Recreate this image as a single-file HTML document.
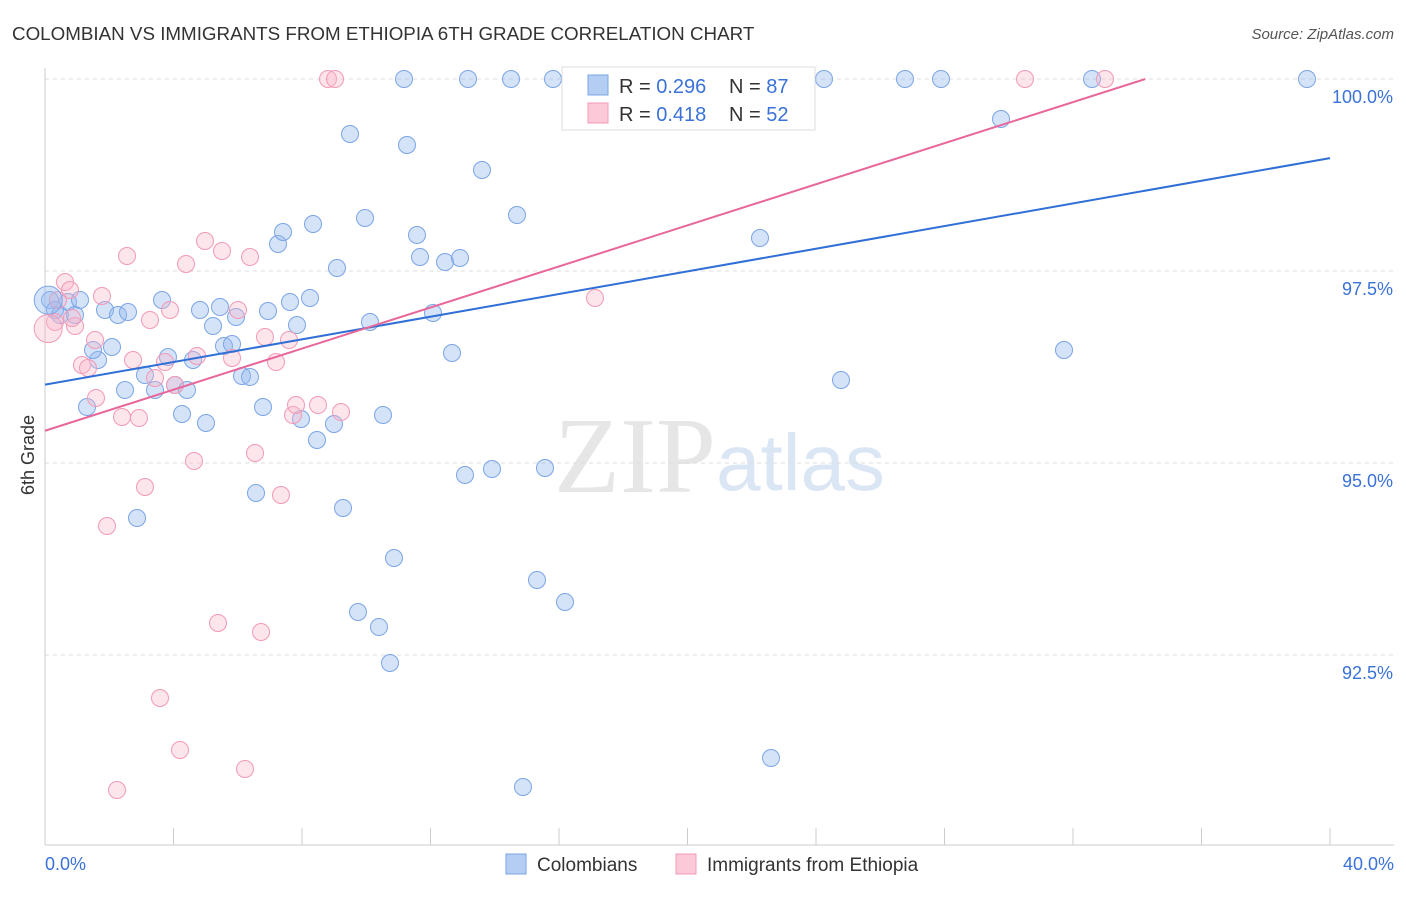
<!DOCTYPE html>
<html><head><meta charset="utf-8"><style>
body{margin:0;background:#fff;font-family:"Liberation Sans",sans-serif;}
</style></head><body>
<svg id="c" width="1406" height="892" xmlns="http://www.w3.org/2000/svg">
<text x="12" y="40" font-size="18.8" fill="#333">COLOMBIAN VS IMMIGRANTS FROM ETHIOPIA 6TH GRADE CORRELATION CHART</text>
<text x="1394" y="39" font-size="15" fill="#555" font-style="italic" text-anchor="end">Source: ZipAtlas.com</text>
<text x="716" y="492" font-size="108" fill="#e6e6e6" text-anchor="end" font-family="Liberation Serif,serif">ZIP</text>
<text x="716" y="490" font-size="80" fill="#dbe6f5">atlas</text>
<g id="grid"></g><g id="pts"></g><g id="lines"></g>
<text x="34" y="455" font-size="18" fill="#333" text-anchor="middle" transform="rotate(-90 34 455)">6th Grade</text>
<text x="45" y="870" font-size="18" fill="#3a72d8">0.0%</text>
<text x="1394" y="870" font-size="18" fill="#3a72d8" text-anchor="end">40.0%</text>
<g>
<rect x="562" y="67" width="253" height="63" fill="#fff" stroke="#ddd"/>
<rect x="588" y="75" width="20" height="20" fill="#b4cdf2" stroke="#7aa5e6"/>
<text x="619" y="93" font-size="20" fill="#333">R = <tspan fill="#3a72d8">0.296</tspan></text>
<text x="729" y="93" font-size="20" fill="#333">N = <tspan fill="#3a72d8">87</tspan></text>
<rect x="588" y="103" width="20" height="20" fill="#fcc9d8" stroke="#f29ab5"/>
<text x="619" y="121" font-size="20" fill="#333">R = <tspan fill="#3a72d8"> 0.418</tspan></text>
<text x="729" y="121" font-size="20" fill="#333">N = <tspan fill="#3a72d8">52</tspan></text>
</g>
<g>
<rect x="506" y="854" width="20" height="20" fill="#b4cdf2" stroke="#7aa5e6"/>
<text x="537" y="871" font-size="19" fill="#333">Colombians</text>
<rect x="676" y="854" width="20" height="20" fill="#fcc9d8" stroke="#f29ab5"/>
<text x="707" y="871" font-size="19" fill="#333">Immigrants from Ethiopia</text>
</g>
</svg>
<script>
const yTicks=[100,97.5,95,92.5];
const yTickLabels=["100.0%","97.5%","95.0%","92.5%"];
const xTicks=[0,4,8,12,16,20,24,28,32,36,40];
const bluePx=[[50,300],[55,310],[60,315],[68,302],[75,315],[80,300],[87,407],[98,360],[93,350],[105,310],[118,315],[128,312],[125,390],[112,347],[137,518],[145,375],[155,390],[162,300],[168,357],[175,385],[187,390],[182,414],[193,360],[200,310],[206,423],[213,326],[220,307],[224,346],[232,344],[236,317],[242,376],[250,377],[256,493],[263,407],[268,311],[278,244],[283,232],[290,302],[297,325],[301,419],[310,298],[313,224],[317,440],[334,424],[337,268],[343,508],[350,134],[358,612],[365,218],[370,322],[379,627],[383,415],[390,663],[394,558],[404,79],[407,145],[417,235],[420,257],[433,313],[445,262],[452,353],[460,258],[465,475],[468,79],[482,170],[492,469],[511,79],[517,215],[537,580],[545,468],[553,79],[565,602],[523,787],[760,238],[771,758],[824,79],[841,380],[905,79],[941,79],[1001,119],[1064,350],[1092,79],[1307,79]];
const pinkPx=[[58,300],[65,282],[70,290],[75,326],[82,365],[88,368],[96,398],[102,296],[107,526],[117,790],[122,417],[127,256],[133,360],[139,418],[145,487],[150,320],[155,378],[160,698],[165,362],[170,310],[180,750],[186,264],[194,461],[197,356],[205,241],[218,623],[222,251],[232,358],[238,310],[245,769],[250,257],[255,453],[261,632],[265,337],[276,362],[281,495],[289,340],[293,415],[296,405],[318,405],[328,79],[335,79],[341,412],[595,298],[1025,79],[1105,79],[95,340],[72,318],[175,385],[55,322]];
const blueX=bluePx.map(p=>(p[0]-45)/1285*40), blueY=bluePx.map(p=>100-(p[1]-79)/76.8);
const pinkX=pinkPx.map(p=>(p[0]-45)/1285*40), pinkY=pinkPx.map(p=>100-(p[1]-79)/76.8);
const blueLine=[96.02,98.97];
const pinkLine=[95.42,100.0,34.25];
const X=v=>45+v/40*1285, Y=v=>79+(100-v)*76.8;
const NS="http://www.w3.org/2000/svg";
function mk(t,a,par){const e=document.createElementNS(NS,t);for(const k in a)e.setAttribute(k,a[k]);document.getElementById(par).appendChild(e);return e;}
yTicks.forEach((v,i)=>{
 const l=mk('line',{x1:45,x2:1394,y1:Y(v),y2:Y(v),stroke:'#ddd','stroke-dasharray':'4,4'},'grid');
 
 
 const t=mk('text',{x:1393,y:Y(v)+24,'font-size':18,fill:'#3a72d8','text-anchor':'end'},'grid');t.textContent=yTickLabels[i];
 
 
});
const ax=mk('line',{x1:45,x2:1394,y1:845,y2:845,stroke:'#ccc'},'grid');


const ay=mk('line',{x1:45,x2:45,y1:68,y2:845,stroke:'#ccc'},'grid');


xTicks.forEach(v=>{const t=mk('line',{x1:X(v),x2:X(v),y1:828,y2:845,stroke:'#ccc'},'grid');
 
 });
blueX.forEach((x,i)=>{const c=mk('circle',{cx:X(x),cy:Y(blueY[i]),r:8.5,fill:'rgba(150,185,240,0.4)',stroke:'#7aa5e6','stroke-width':1},'pts');
 
 });
pinkX.forEach((x,i)=>{const c=mk('circle',{cx:X(x),cy:Y(pinkY[i]),r:8.5,fill:'rgba(250,180,200,0.35)',stroke:'#f29ab5','stroke-width':1},'pts');
 
 });
const big1=mk('circle',{cx:X(0.1),cy:Y(97.12),r:14,fill:'rgba(150,185,240,0.4)',stroke:'#7aa5e6'},'pts');


const big2=mk('circle',{cx:X(0.1),cy:Y(96.75),r:14,fill:'rgba(250,180,200,0.35)',stroke:'#f29ab5'},'pts');


const bl=mk('line',{x1:X(0),y1:Y(blueLine[0]),x2:X(40),y2:Y(blueLine[1]),stroke:'#2f6fd6','stroke-width':2},'lines');


const pl=mk('line',{x1:X(0),y1:Y(pinkLine[0]),x2:X(pinkLine[2]),y2:Y(pinkLine[1]),stroke:'#e8679a','stroke-width':2},'lines');


</script>
</body></html>
